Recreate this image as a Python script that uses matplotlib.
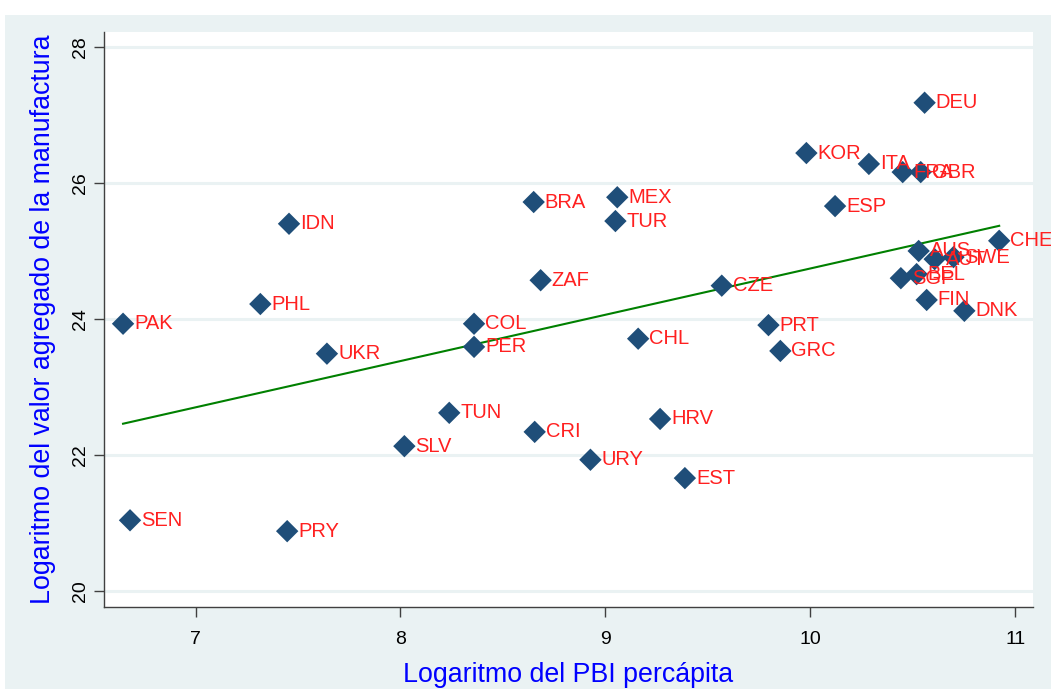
import matplotlib
matplotlib.use("Agg")
import matplotlib.pyplot as plt
from matplotlib.patches import Rectangle

plt.rcParams['font.family'] = ['Liberation Sans', 'DejaVu Sans']

countries = ["PAK", "SEN", "PHL", "PRY", "IDN", "UKR", "SLV", "TUN", "COL", "PER",
             "CRI", "BRA", "ZAF", "URY", "MEX", "TUR", "CHL", "HRV", "EST", "CZE",
             "PRT", "GRC", "KOR", "ESP", "ITA", "DEU", "FRA", "GBR", "CHE", "AUS",
             "AUT", "SWE", "SGP", "BEL", "FIN", "DNK"]
log_gdp = [6.646, 6.680, 7.316, 7.447, 7.456, 7.641, 8.019, 8.238, 8.359, 8.359,
           8.655, 8.650, 8.684, 8.927, 9.058, 9.049, 9.160, 9.267, 9.388, 9.568,
           9.796, 9.854, 9.981, 10.121, 10.286, 10.558, 10.451, 10.539, 10.922, 10.529,
           10.607, 10.699, 10.442, 10.519, 10.568, 10.752]
log_manuf = [23.93, 21.04, 24.22, 20.88, 25.40, 23.49, 22.13, 22.62, 23.93, 23.59,
             22.34, 25.72, 24.57, 21.93, 25.79, 25.44, 23.71, 22.53, 21.66, 24.49,
             23.91, 23.53, 26.44, 25.66, 26.28, 27.18, 26.16, 26.16, 25.15, 25.00,
             24.88, 24.91, 24.60, 24.66, 24.28, 24.12]
fit_x = [6.646, 10.922]
fit_y = [22.46, 25.37]

xticks = [7, 8, 9, 10, 11]
yticks = [20, 22, 24, 26, 28]

W, H = 1051, 689
fig = plt.figure(figsize=(W / 100, H / 100), dpi=100)
fig.patch.set_facecolor('white')
fig.add_artist(Rectangle((5 / W, 0), 1 - 5 / W, 1 - 15 / H, transform=fig.transFigure,
                         facecolor='#EAF2F3', edgecolor='none', zorder=0))

ax = fig.add_axes([104 / W, 1 - 607 / H, (1033 - 104) / W, (607 - 32) / H])
ax.set_facecolor('white')
ax.set_xlim(6.553, 11.087)
ax.set_ylim(19.765, 28.22)

for yt in yticks:
    ax.axhline(yt, color='#EAF2F3', lw=2.2, zorder=0)

ax.plot(fit_x, fit_y, color='#008000', lw=1.5, zorder=2)
ax.scatter(log_gdp, log_manuf, marker='D', s=130, color='#1F4E79', edgecolors='none', zorder=3)
for c, xv, yv in zip(countries, log_gdp, log_manuf):
    ax.annotate(c, (xv, yv), xytext=(8, 0), textcoords='offset points', va='center', ha='left',
                color='#FF2020', fontsize=14.5, zorder=4, annotation_clip=False)

for s in ['top', 'right']:
    ax.spines[s].set_visible(False)
for s in ['left', 'bottom']:
    ax.spines[s].set_color('#404040')
    ax.spines[s].set_linewidth(1.0)

ax.set_xticks(xticks)
ax.set_yticks(yticks)
ax.tick_params(axis='both', direction='out', length=7, width=1, color='#404040',
               labelsize=14, labelcolor='black')
ax.tick_params(axis='x', pad=10)
plt.setp(ax.get_yticklabels(), rotation=90, va='center')

ax.set_xlabel('Logaritmo del PBI percápita', color='#0000FF', fontsize=19.3, labelpad=10)
ax.set_ylabel('Logaritmo del valor agregado de la manufactura', color='#0000FF', fontsize=19.3, labelpad=12)

fig.savefig('out.png', dpi=100, facecolor=fig.get_facecolor())
